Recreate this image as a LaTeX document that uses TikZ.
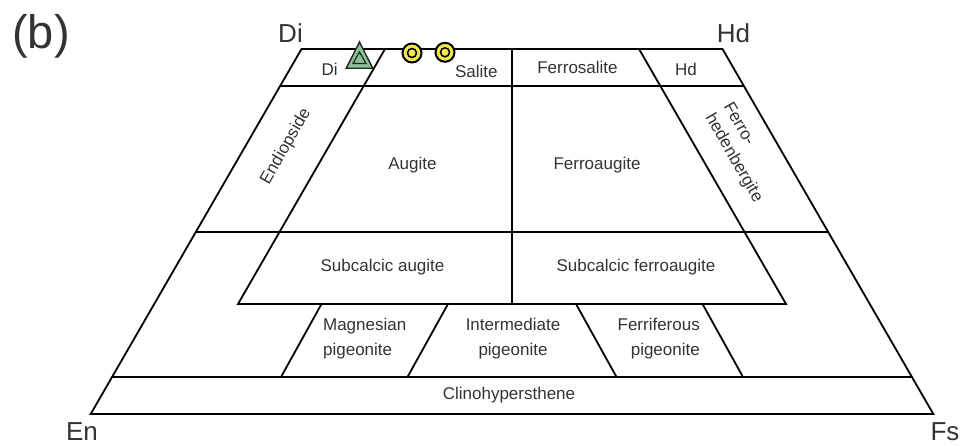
\documentclass[tikz,border=0pt]{standalone}
\usepackage{fontspec}
\setmainfont{Liberation Sans}
\definecolor{markgreen}{HTML}{86C293}
\definecolor{markyellow}{HTML}{F2E84B}
\definecolor{labelgray}{HTML}{333333}
\begin{document}
\begin{tikzpicture}[x=1pt,y=-1pt,
  field/.style={line width=1.8pt,line join=miter},
  lbl/.style={inner sep=0pt,text=labelgray,font=\fontsize{17}{25}\selectfont},
  endmember/.style={inner sep=0pt,text=labelgray,font=\fontsize{26}{30}\selectfont},
  tri/.style={draw=black!85,line width=1.4pt,fill=markgreen,line join=miter},
  ring/.style={draw=black,line width=2pt,fill=markyellow}]
\useasboundingbox (0,0) rectangle (963,446);

% quadrilateral corners
\coordinate (TL) at (301.5,49);  \coordinate (TR) at (722.5,49);
\coordinate (BR) at (933.3,414); \coordinate (BL) at (90.7,414);
% outer edges at the field boundaries
\coordinate (L86) at (280.1,86);   \coordinate (R86) at (743.9,86);
\coordinate (L232) at (195.8,232); \coordinate (R232) at (828.2,232);
\coordinate (L377) at (112.1,377); \coordinate (R377) at (911.9,377);
% inner oblique boundaries
\coordinate (IL49) at (385,49);  \coordinate (IL304) at (238,304);
\coordinate (IR49) at (639,49);  \coordinate (IR304) at (786,304);
\coordinate (M49) at (512,49);   \coordinate (M304) at (512,304);
% pigeonite boundaries
\coordinate (P1a) at (321.5,304); \coordinate (P1b) at (281,377);
\coordinate (P2a) at (448,304);   \coordinate (P2b) at (407.5,377);
\coordinate (P3a) at (576,304);   \coordinate (P3b) at (616.5,377);
\coordinate (P4a) at (702.5,304); \coordinate (P4b) at (743,377);

\draw[field] (TL) -- (TR) -- (BR) -- (BL) -- cycle;
\draw[field] (L86) -- (R86);
\draw[field] (L232) -- (R232);
\draw[field] (L377) -- (R377);
\draw[field] (IL49) -- (IL304) -- (IR304) -- (IR49);
\draw[field] (M49) -- (M304);
\draw[field] (P1a) -- (P1b);
\draw[field] (P2a) -- (P2b);
\draw[field] (P3a) -- (P3b);
\draw[field] (P4a) -- (P4b);

% end members and panel letter
\node[inner sep=0pt,text=labelgray,font=\fontsize{47}{50}\selectfont] (panel) at (41,36) {(b)};
\node[endmember] (Di) at (290.5,33) {Di};
\node[endmember] (Hd) at (733.5,33) {Hd};
\node[endmember] (En) at (82,432) {En};
\node[endmember] (Fs) at (945,432) {Fs};

% field names
\node[lbl] (di) at (329.7,69) {Di};
\node[lbl] (salite) at (476.3,71) {Salite};
\node[lbl] (ferrosalite) at (577.5,67) {Ferrosalite};
\node[lbl] (hd) at (686,69.5) {Hd};
\node[lbl,rotate=60] (endiopside) at (286,146.5) {Endiopside};
\node[lbl] (augite) at (412.5,165) {Augite};
\node[lbl] (ferroaugite) at (597,165) {Ferroaugite};
\node[lbl,rotate=-60,align=left,font=\fontsize{17}{21}\selectfont] (ferrohd) at (742.5,153) {Ferro-\\hedenbergite};
\node[lbl] (subaug) at (382.5,267) {Subcalcic augite};
\node[lbl] (subfaug) at (636,267) {Subcalcic ferroaugite};
\node[lbl,align=left] (mgpig) at (364.7,339) {Magnesian\\pigeonite};
\node[lbl,align=center] (intpig) at (513,339) {Intermediate\\pigeonite};
\node[lbl,align=right] (fepig) at (658.7,339) {Ferriferous\\pigeonite};
\node[lbl] (clino) at (509,395) {Clinohypersthene};

% analysed compositions
\draw[tri] (359.5,42) -- (372.8,68.3) -- (346.2,68.3) -- cycle;
\draw[tri,line width=1.2pt] (359.5,52) -- (366,63.5) -- (353,63.5) -- cycle;
\node[ring,circle,minimum size=19pt,inner sep=0pt] (c1) at (412,53) {};
\node[ring,circle,minimum size=9pt,inner sep=0pt,line width=1.5pt] (c1in) at (c1) {};
\node[ring,circle,minimum size=19pt,inner sep=0pt] (c2) at (445,52.3) {};
\node[ring,circle,minimum size=9pt,inner sep=0pt,line width=1.5pt] (c2in) at (c2) {};
\end{tikzpicture}
\end{document}
